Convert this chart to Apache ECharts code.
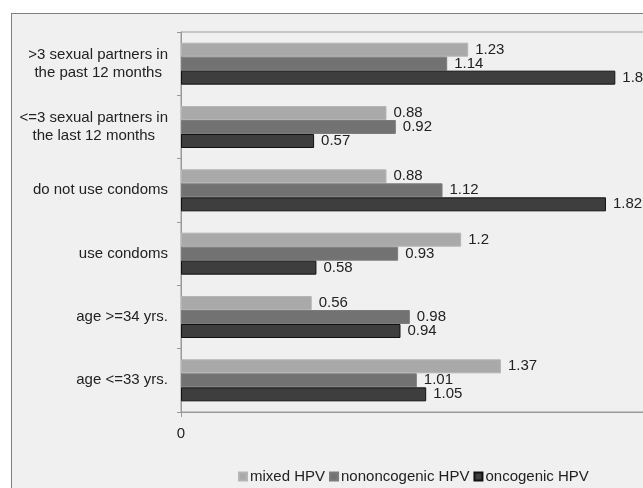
<!DOCTYPE html>
<html>
<head>
<meta charset="utf-8">
<script src="https://cdn.jsdelivr.net/npm/echarts@6/dist/echarts.min.js"></script>
<style>
  html, body { margin: 0; padding: 0; background: #fff; overflow: hidden; }
  #frame { position: absolute; left: 11px; top: 13px; width: 700px; height: 600px;
           border: 1px solid #808080; background: #f0f0f0; }
  #main { position: absolute; left: 0; top: 0; width: 643px; height: 488px; }
</style>
</head>
<body>
<div id="frame"></div>
<div id="main"></div>
<script>
// categories top -> bottom
var categories = [
  '>3 sexual partners in\nthe past 12 months',
  '<=3 sexual partners in\nthe last 12 months',
  'do not use condoms',
  'use condoms',
  'age >=34 yrs.',
  'age <=33 yrs.'
];
var mixedHPV = [1.23, 0.88, 0.88, 1.2, 0.56, 1.37];
var nononcogenicHPV = [1.14, 0.92, 1.12, 0.93, 0.98, 1.01];
var oncogenicHPV = [1.86, 0.57, 1.82, 0.58, 0.94, 1.05];

var font = 'Liberation Sans, Arial, sans-serif';
var chart = echarts.init(document.getElementById('main'));

function barSeries(name, data, color, border) {
  return {
    name: name,
    type: 'bar',
    data: data,
    barWidth: 14,
    barGap: '0%',
    itemStyle: { color: color, borderColor: border, borderWidth: 1 },
    label: {
      show: true,
      position: 'right',
      distance: 7,
      color: '#222',
      fontFamily: font,
      fontSize: 15
    }
  };
}

chart.setOption({
  backgroundColor: 'transparent',
  animation: false,
  textStyle: { fontFamily: font },
  legend: {
    left: 233,
    top: 464,
    itemWidth: 8,
    itemHeight: 8,
    itemGap: 4,
    icon: 'rect',
    textStyle: { fontSize: 15, color: '#222', fontFamily: font, padding: [0, 0, 0, -2] },
    data: ['mixed HPV', 'nononcogenic HPV', 'oncogenic HPV']
  },
  grid: {
    left: 181,
    top: 32,
    width: 467,
    height: 380,
    outerBoundsMode: 'none',
    containLabel: false,
    show: true,
    borderColor: '#9a9a9a',
    borderWidth: 1
  },
  xAxis: {
    type: 'value',
    min: 0,
    max: 2,
    interval: 2,
    axisLine: { show: true, lineStyle: { color: '#999' } },
    axisTick: { show: true, length: 5, lineStyle: { color: '#999' } },
    splitLine: { show: false },
    axisLabel: { color: '#222', fontSize: 15, margin: 14, fontFamily: font }
  },
  yAxis: {
    type: 'category',
    inverse: true,
    data: categories,
    axisLine: { show: true, lineStyle: { color: '#999' } },
    axisTick: { show: true, length: 4, inside: false, lineStyle: { color: '#999' } },
    axisLabel: {
      margin: 13,
      color: '#222',
      formatter: function (v) {
        return v.split('\n').map(function (s) { return '{c|' + s + '}'; }).join('\n');
      },
      rich: {
        c: { align: 'center', fontSize: 15, lineHeight: 18, color: '#222', fontFamily: font }
      }
    }
  },
  series: [
    barSeries('mixed HPV', mixedHPV, '#a9a9a9', '#b5b5b5'),
    barSeries('nononcogenic HPV', nononcogenicHPV, '#727272', '#7c7c7c'),
    barSeries('oncogenic HPV', oncogenicHPV, '#3e3e3e', '#111')
  ]
});
</script>
</body>
</html>
